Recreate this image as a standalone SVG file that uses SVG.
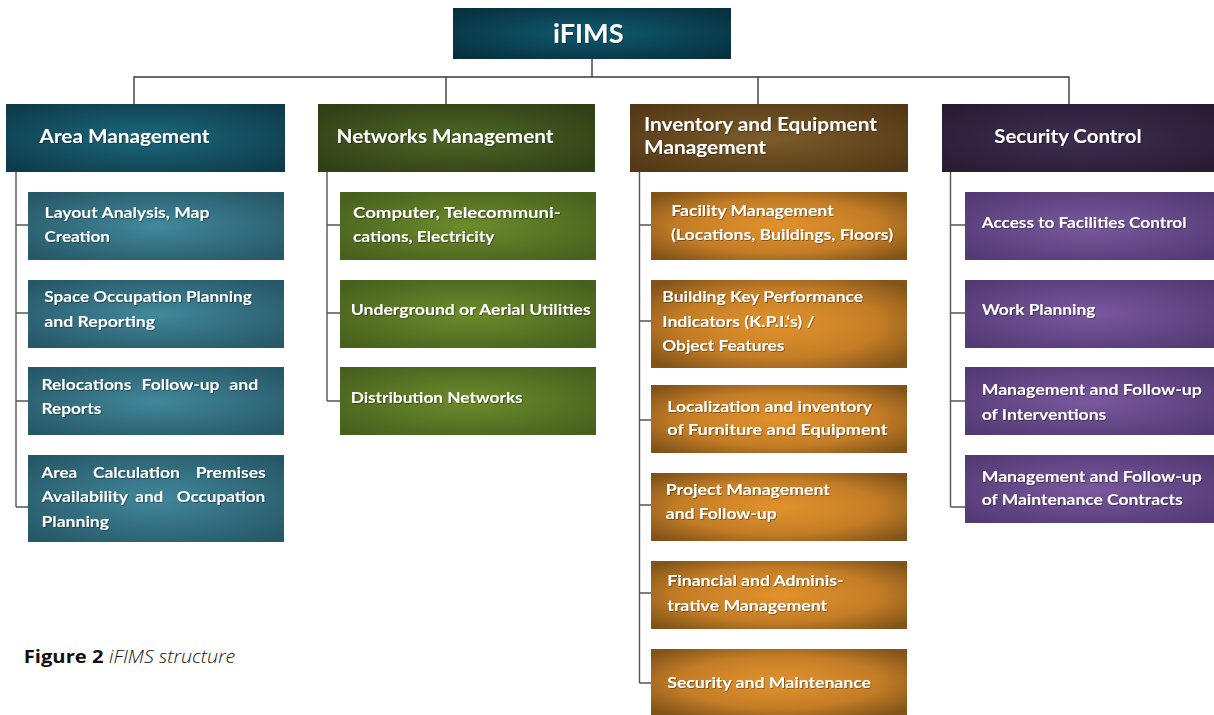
<svg xmlns="http://www.w3.org/2000/svg" width="1214" height="715" viewBox="0 0 1214 715">
<defs>
<radialGradient id="gTop" cx="50%" cy="50%" r="65%"><stop offset="0" stop-color="#0f5a70"/><stop offset="1" stop-color="#07303f"/></radialGradient>
<radialGradient id="gAreaH" cx="50%" cy="50%" r="65%"><stop offset="0" stop-color="#1c687d"/><stop offset="1" stop-color="#0d3b4b"/></radialGradient>
<radialGradient id="gAreaC" cx="50%" cy="50%" r="65%"><stop offset="0" stop-color="#41889b"/><stop offset="1" stop-color="#265868"/></radialGradient>
<radialGradient id="gNetH" cx="50%" cy="50%" r="65%"><stop offset="0" stop-color="#4f6626"/><stop offset="1" stop-color="#2f3f16"/></radialGradient>
<radialGradient id="gNetC" cx="50%" cy="50%" r="65%"><stop offset="0" stop-color="#6c8c2c"/><stop offset="1" stop-color="#47601d"/></radialGradient>
<radialGradient id="gInvH" cx="50%" cy="50%" r="65%"><stop offset="0" stop-color="#7c5c2a"/><stop offset="1" stop-color="#533816"/></radialGradient>
<radialGradient id="gInvC" cx="50%" cy="50%" r="65%"><stop offset="0" stop-color="#e2922c"/><stop offset="0.6" stop-color="#c47d26"/><stop offset="1" stop-color="#825419"/></radialGradient>
<radialGradient id="gSecH" cx="50%" cy="50%" r="65%"><stop offset="0" stop-color="#3f2e50"/><stop offset="1" stop-color="#281c33"/></radialGradient>
<radialGradient id="gSecC" cx="50%" cy="50%" r="65%"><stop offset="0" stop-color="#7a589e"/><stop offset="1" stop-color="#533a74"/></radialGradient>
<filter id="ts" x="-5%" y="-20%" width="110%" height="140%"><feDropShadow dx="0.8" dy="0.8" stdDeviation="0.6" flood-color="#000" flood-opacity="0.45"/></filter>
</defs>
<style>
.t{font-family:Lato,"Liberation Sans",sans-serif;font-weight:bold;fill:#ffffff;filter:url(#ts)}
.title{font-size:27px}
.h{font-size:18px}
.c{font-size:16px}
.ln{fill:none;stroke:#3a3a3a;stroke-width:1.4}
.sp{fill:none;stroke:#555555;stroke-width:1.4}
.cap{font-family:"Open Sans","Liberation Sans",sans-serif;font-size:18px;fill:#111}
</style>
<rect width="1214" height="715" fill="#ffffff"/>
<g id="connectors">
<path class="ln" d="M592 59V77M134 104V77H1069V104M446 77V104M758 77V104"/>
<path class="sp" d="M16 172V507M16 225H28M16 313H28M16 401H28M16 507H28"/>
<path class="sp" d="M327 172V401M327 225H340M327 313H340M327 401H340"/>
<path class="sp" d="M639.5 172V683M639.5 225H651M639.5 321H651M639.5 420H651M639.5 505H651M639.5 593H651M639.5 683H651"/>
<path class="sp" d="M950.5 172V507M950.5 225H965M950.5 313H965M950.5 401H965M950.5 507H965"/>
</g>
<g id="ifims"><rect x="453" y="8" width="278" height="51" fill="url(#gTop)"/><text class="t title" x="553" y="43" textLength="70.5" lengthAdjust="spacingAndGlyphs">iFIMS</text></g>
<g id="area-management"><rect x="6" y="104" width="279" height="68" fill="url(#gAreaH)"/><text class="t h" x="39.5" y="142.5" textLength="170" lengthAdjust="spacingAndGlyphs">Area Management</text></g>
<g id="networks-management"><rect x="318" y="104" width="277" height="68" fill="url(#gNetH)"/><text class="t h" x="336.5" y="142.5" textLength="217" lengthAdjust="spacingAndGlyphs">Networks Management</text></g>
<g id="inventory-management"><rect x="630" y="104" width="278" height="68" fill="url(#gInvH)"/><text class="t h" x="644" y="130.5" textLength="233" lengthAdjust="spacingAndGlyphs">Inventory and Equipment</text><text class="t h" x="644" y="154.3" textLength="122" lengthAdjust="spacingAndGlyphs">Management</text></g>
<g id="security-control"><rect x="942" y="104" width="272" height="68" fill="url(#gSecH)"/><text class="t h" x="994.3" y="142.5" textLength="147.2" lengthAdjust="spacingAndGlyphs">Security Control</text></g>

<g id="layout-analysis"><rect x="28" y="192" width="256" height="68" fill="url(#gAreaC)"/><text class="t c" x="44.5" y="218" textLength="165" lengthAdjust="spacingAndGlyphs">Layout Analysis, Map</text><text class="t c" x="44.5" y="242" textLength="65.5" lengthAdjust="spacingAndGlyphs">Creation</text></g>
<g id="space-occupation"><rect x="28" y="280" width="256" height="68" fill="url(#gAreaC)"/><text class="t c" x="44.3" y="302.3" textLength="207.5" lengthAdjust="spacingAndGlyphs">Space Occupation Planning</text><text class="t c" x="44.3" y="326.5" textLength="110.7" lengthAdjust="spacingAndGlyphs">and Reporting</text></g>
<g id="relocations"><rect x="28" y="367" width="256" height="68" fill="url(#gAreaC)"/><text class="t c" y="390"><tspan x="41.5" textLength="89.8" lengthAdjust="spacingAndGlyphs">Relocations</tspan> <tspan x="141.6" textLength="77.9" lengthAdjust="spacingAndGlyphs">Follow-up</tspan> <tspan x="229.3" textLength="28.9" lengthAdjust="spacingAndGlyphs">and</tspan></text><text class="t c" x="41.5" y="414" textLength="59.7" lengthAdjust="spacingAndGlyphs">Reports</text></g>
<g id="area-calculation"><rect x="28" y="455" width="256" height="87" fill="url(#gAreaC)"/><text class="t c" y="478.3"><tspan x="41.5" textLength="35.6" lengthAdjust="spacingAndGlyphs">Area</tspan> <tspan x="92.9" textLength="87" lengthAdjust="spacingAndGlyphs">Calculation</tspan> <tspan x="195.7" textLength="70" lengthAdjust="spacingAndGlyphs">Premises</tspan></text><text class="t c" y="502.3"><tspan x="41.5" textLength="86.2" lengthAdjust="spacingAndGlyphs">Availability</tspan> <tspan x="135.2" textLength="28.1" lengthAdjust="spacingAndGlyphs">and</tspan> <tspan x="176.7" textLength="88.6" lengthAdjust="spacingAndGlyphs">Occupation</tspan></text><text class="t c" x="41.5" y="526.5" textLength="67.5" lengthAdjust="spacingAndGlyphs">Planning</text></g>

<g id="computer-telecom"><rect x="340" y="192" width="256" height="68" fill="url(#gNetC)"/><text class="t c" x="353" y="218" textLength="207.7" lengthAdjust="spacingAndGlyphs">Computer, Telecommuni-</text><text class="t c" x="353" y="242" textLength="141.3" lengthAdjust="spacingAndGlyphs">cations, Electricity</text></g>
<g id="underground-utilities"><rect x="340" y="280" width="256" height="68" fill="url(#gNetC)"/><text class="t c" x="350.7" y="315" textLength="240" lengthAdjust="spacingAndGlyphs">Underground or Aerial Utilities</text></g>
<g id="distribution-networks"><rect x="340" y="367" width="256" height="68" fill="url(#gNetC)"/><text class="t c" x="350.7" y="402.5" textLength="172" lengthAdjust="spacingAndGlyphs">Distribution Networks</text></g>

<g id="facility-management"><rect x="651" y="192" width="256" height="68" fill="url(#gInvC)"/><text class="t c" x="671.2" y="215.5" textLength="162.5" lengthAdjust="spacingAndGlyphs">Facility Management</text><text class="t c" x="671" y="240" textLength="222" lengthAdjust="spacingAndGlyphs">(Locations, Buildings, Floors)</text></g>
<g id="building-kpi"><rect x="651" y="280" width="256" height="88" fill="url(#gInvC)"/><text class="t c" x="662.3" y="302.3" textLength="200.8" lengthAdjust="spacingAndGlyphs">Building Key Performance</text><text class="t c" x="662.3" y="326.5" textLength="152.3" lengthAdjust="spacingAndGlyphs">Indicators (K.P.I.‘s) /</text><text class="t c" x="662.3" y="350.5" textLength="122.1" lengthAdjust="spacingAndGlyphs">Object Features</text></g>
<g id="localization-inventory"><rect x="651" y="385" width="256" height="68" fill="url(#gInvC)"/><text class="t c" x="667.3" y="411.5" textLength="204.8" lengthAdjust="spacingAndGlyphs">Localization and inventory</text><text class="t c" x="667.3" y="435" textLength="220.1" lengthAdjust="spacingAndGlyphs">of  Furniture and Equipment</text></g>
<g id="project-management"><rect x="651" y="473" width="256" height="68" fill="url(#gInvC)"/><text class="t c" x="665.8" y="495" textLength="164" lengthAdjust="spacingAndGlyphs">Project Management</text><text class="t c" x="665.8" y="519.3" textLength="110.8" lengthAdjust="spacingAndGlyphs">and Follow-up</text></g>
<g id="financial-administrative"><rect x="651" y="561" width="256" height="68" fill="url(#gInvC)"/><text class="t c" x="667.3" y="585.7" textLength="176.2" lengthAdjust="spacingAndGlyphs">Financial and Adminis-</text><text class="t c" x="667.3" y="610.5" textLength="159.8" lengthAdjust="spacingAndGlyphs">trative Management</text></g>
<g id="security-maintenance"><rect x="651" y="649" width="256" height="66" fill="url(#gInvC)"/><text class="t c" x="667.3" y="687.7" textLength="203.7" lengthAdjust="spacingAndGlyphs">Security and Maintenance</text></g>

<g id="access-control"><rect x="965" y="192" width="249" height="68" fill="url(#gSecC)"/><text class="t c" x="981.7" y="228.3" textLength="204.8" lengthAdjust="spacingAndGlyphs">Access to Facilities Control</text></g>
<g id="work-planning"><rect x="965" y="280" width="249" height="68" fill="url(#gSecC)"/><text class="t c" x="981.7" y="315" textLength="113.6" lengthAdjust="spacingAndGlyphs">Work Planning</text></g>
<g id="interventions"><rect x="965" y="367" width="249" height="68" fill="url(#gSecC)"/><text class="t c" x="981.7" y="395" textLength="220.1" lengthAdjust="spacingAndGlyphs">Management and Follow-up</text><text class="t c" x="981.7" y="420" textLength="124.6" lengthAdjust="spacingAndGlyphs">of Interventions</text></g>
<g id="maintenance-contracts"><rect x="965" y="455" width="249" height="68" fill="url(#gSecC)"/><text class="t c" x="981.7" y="481.7" textLength="220.1" lengthAdjust="spacingAndGlyphs">Management and Follow-up</text><text class="t c" x="981.7" y="505" textLength="200.9" lengthAdjust="spacingAndGlyphs">of Maintenance Contracts</text></g>

<g id="caption"><text class="cap" x="23.7" y="663.3"><tspan font-weight="bold" textLength="79.9" lengthAdjust="spacingAndGlyphs">Figure 2</tspan><tspan x="109" font-style="italic" font-weight="300" textLength="126.3" lengthAdjust="spacingAndGlyphs">iFIMS structure</tspan></text></g>
</svg>
